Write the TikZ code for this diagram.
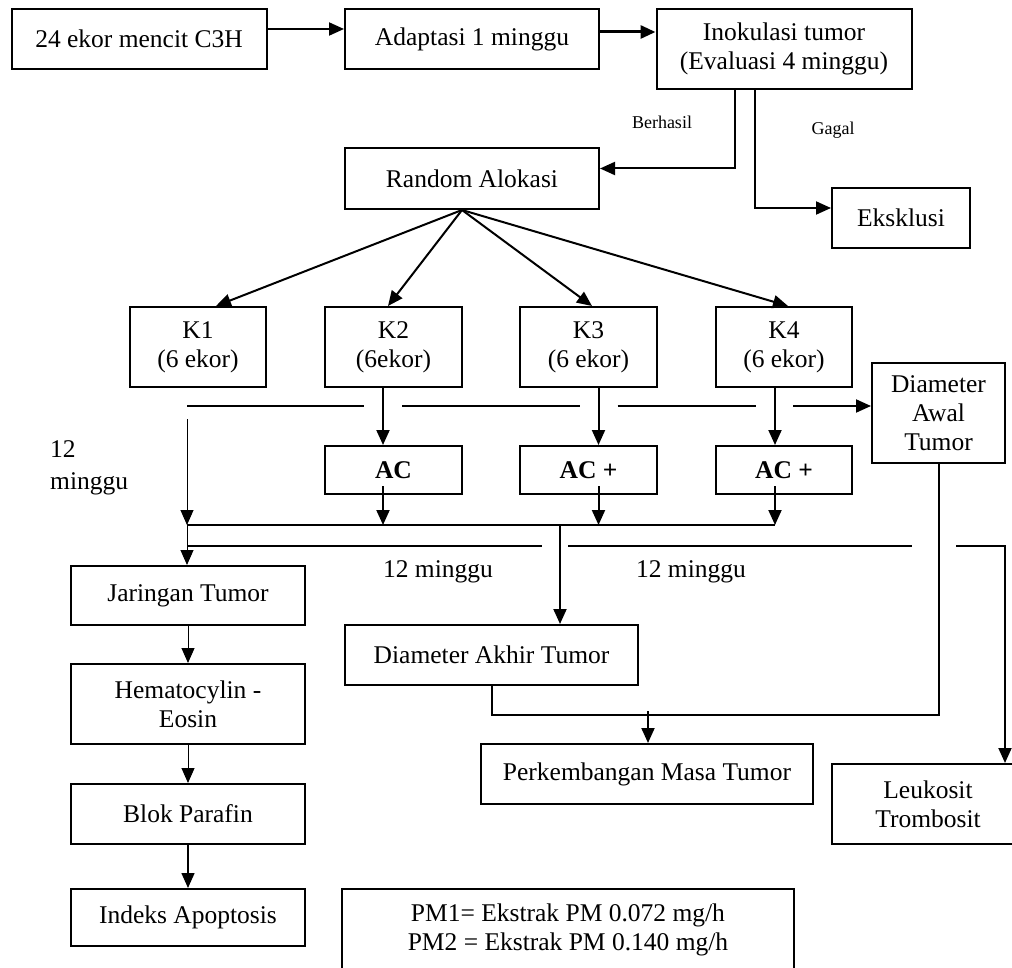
\documentclass[tikz,border=0pt]{standalone}
\usepackage{fontspec}
\setmainfont{Liberation Serif}
\usepackage{xcolor}
\usepackage{tikz}
\usetikzlibrary{arrows.meta}
\definecolor{inkblack}{RGB}{0, 0, 0}
\tikzstyle{stage} = [
    rectangle,
    minimum width=254pt,
    minimum height=60pt,
    inner sep=0pt,
    text centered,
    align=center,
    draw=inkblack,
    line width=2pt,
    font=\fontsize{25.5}{29}\selectfont
]
\tikzstyle{cohort} = [
    stage,
    minimum width=137pt,
    minimum height=80pt
]
\tikzstyle{treat} = [
    stage,
    minimum width=137pt,
    minimum height=48pt,
    font=\fontsize{25.5}{29}\selectfont\bfseries
]
\tikzstyle{timenote} = [
    inner sep=0pt,
    font=\fontsize{25.5}{29}\selectfont
]
\tikzstyle{branch} = [
    inner sep=0pt,
    font=\fontsize{18}{21}\selectfont
]
\tikzstyle{arrow} = [
    line width=2pt,
    -{Triangle[length=15pt, width=13pt]},
    color=inkblack
]
\tikzstyle{thinarrow} = [arrow, line width=1pt]
\tikzstyle{link} = [line width=2pt, color=inkblack]

\begin{document}
\begin{tikzpicture}[x=1pt, y=-1pt]
        \useasboundingbox (0,0) rectangle (1012,968);
        \clip (0,0) rectangle (1012,968);

        % Nodes - top
        \node[stage, minimum width=255pt] (mice) at (139, 39) {24 ekor mencit C3H};
        \node[stage] (adapt) at (472, 39) {Adaptasi 1 minggu};
        \node[stage, minimum width=255pt, minimum height=80pt] (inok) at (784, 49) {Inokulasi tumor\\(Evaluasi 4 minggu)};
        \node[stage, minimum height=61pt] (rand) at (472, 178.5) {Random Alokasi};
        \node[stage, minimum width=138pt] (eks) at (901, 218) {Eksklusi};
        \node[branch] (berhasil) at (662, 122) {Berhasil};
        \node[branch] (gagal) at (833, 130) {Gagal};

        % Nodes - groups
        \node[cohort, minimum width=136pt] (k1) at (198, 347) {K1\\(6 ekor)};
        \node[cohort] (k2) at (393.5, 347) {K2\\(6ekor)};
        \node[cohort] (k3) at (588.5, 347) {K3\\(6 ekor)};
        \node[cohort, minimum width=136pt] (k4) at (784, 347) {K4\\(6 ekor)};
        \node[stage, minimum width=133pt, minimum height=100pt] (dawal) at (938.5, 413) {Diameter\\Awal\\Tumor};
        \node[treat] (ac2) at (393.5, 470) {AC};
        \node[treat] (ac3) at (588.5, 470) {AC +};
        \node[treat, minimum width=136pt] (ac4) at (784, 470) {AC +};
        \node[timenote, align=left, anchor=west] (wk) at (50, 468) {12\\[3pt]minggu};
        \node[timenote] (wka) at (438, 572) {12 minggu};
        \node[timenote] (wkb) at (691, 572) {12 minggu};

        % Nodes - outcomes
        \node[stage, minimum width=234pt, minimum height=59pt] (jar) at (188, 595.5) {Jaringan Tumor};
        \node[stage, minimum width=234pt, minimum height=80pt] (hem) at (188, 704) {Hematocylin -\\Eosin};
        \node[stage, minimum width=234pt] (blok) at (188, 814) {Blok Parafin};
        \node[stage, minimum width=234pt, minimum height=57pt] (apop) at (188, 917.5) {Indeks Apoptosis};
        \node[stage, minimum width=293pt] (dakhir) at (491.5, 655) {Diameter Akhir Tumor};
        \node[stage, minimum width=332pt] (perk) at (647, 774) {Perkembangan Masa Tumor};
        \node[stage, minimum width=192pt, minimum height=80pt] (leuk) at (928, 804) {Leukosit\\Trombosit};
        \node[stage, minimum width=452pt, minimum height=86pt, text depth=10pt] (legend) at (568, 932) {PM1= Ekstrak PM 0.072 mg/h\\PM2 = Ekstrak PM 0.140 mg/h};

        % Junction points
        \coordinate (c1) at (187, 406);
        \coordinate (c2) at (383, 406);
        \coordinate (c3) at (598.5, 406);
        \coordinate (c4) at (775, 406);
        \coordinate (m1) at (187, 525);
        \coordinate (m0) at (560, 525);
        \coordinate (m4) at (775, 525);
        \coordinate (n1) at (187, 546);
        \coordinate (n2) at (542, 546);
        \coordinate (n3) at (568, 546);
        \coordinate (n4) at (911.5, 546);
        \coordinate (n5) at (956, 546);
        \coordinate (n6) at (1005, 546);
        \coordinate (mg) at (648, 715);
        \coordinate (ra) at ([xshift=-10pt]rand.south);

        % Flow arrows - top
        \draw[arrow] ([yshift=10pt]mice.east) -- ([yshift=10pt]mice.east -| adapt.west);
        \draw[arrow, line width=3pt] ([yshift=7pt]adapt.east) -- ([yshift=7pt]adapt.east -| inok.west);
        \draw[arrow] ([xshift=-49pt]inok.south) |- ([yshift=10pt]rand.east);
        \draw[arrow] ([xshift=-29pt]inok.south) |- ([yshift=10pt]eks.west);

        % Flow arrows - allocation
        \draw[arrow] (ra) -- ([xshift=18pt]k1.north);
        \draw[arrow] (ra) -- ([xshift=-5.5pt]k2.north);
        \draw[arrow] (ra) -- ([xshift=3.5pt]k3.north);
        \draw[arrow] (ra) -- ([xshift=4pt]k4.north);

        % Flow arrows - first measure line
        \draw[link] (c1) -- ([xshift=-19pt]c2);
        \draw[link] ([xshift=19pt]c2) -- ([xshift=-19pt]c3);
        \draw[link] ([xshift=19pt]c3) -- ([xshift=-19pt]c4);
        \draw[arrow] ([xshift=18pt]c4) -- (c4 -| dawal.west);

        % Flow arrows - treatment
        \draw[thinarrow] ([yshift=-13pt]c1) -- (m1);
        \draw[arrow] (c2 |- k2.south) -- (c2 |- ac2.north);
        \draw[arrow] (c3 |- k3.south) -- (c3 |- ac3.north);
        \draw[arrow] (c4 |- k4.south) -- (c4 |- ac4.north);
        \draw[arrow] ([yshift=9pt]c2 |- ac2.south) -- (c2 |- m1);
        \draw[arrow] ([yshift=9pt]c3 |- ac3.south) -- (c3 |- m1);
        \draw[arrow] ([yshift=9pt]c4 |- ac4.south) -- (m4);
        \draw[link] (m1) -- (m4);
        \draw[thinarrow] (m1) -- (m1 |- jar.north);
        \draw[arrow] (m0) -- (m0 |- dakhir.north);

        % Flow arrows - second measure line
        \draw[link] (n1) -- (n2);
        \draw[link] (n3) -- (n4);
        \draw[arrow] (n5) -- (n6) -- (n6 |- leuk.north);
        \draw[link] (dawal.south) |- (mg) -| (dakhir.south);
        \draw[arrow] ([yshift=4pt]mg) -- (mg |- perk.north);

        % Flow arrows - histology
        \draw[thinarrow] (jar) -- (hem);
        \draw[thinarrow] (hem) -- (blok);
        \draw[arrow, line width=1.5pt] (blok) -- (apop);
    \end{tikzpicture}
\end{document}
